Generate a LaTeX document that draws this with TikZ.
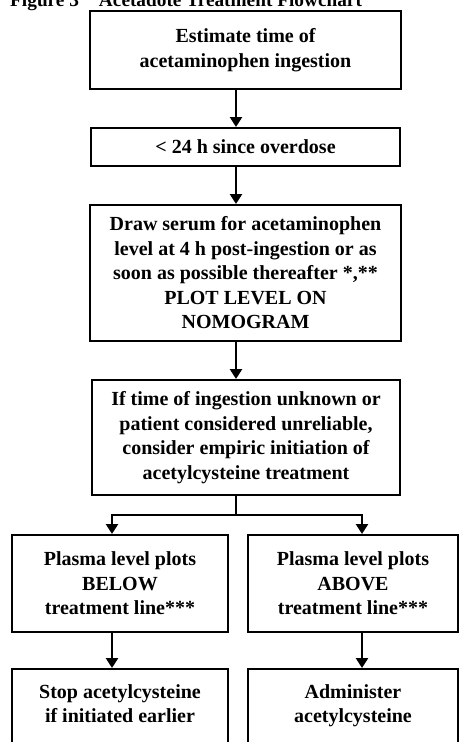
\documentclass[tikz,border=0pt]{standalone}
\usepackage{fontspec}
\setmainfont{Liberation Serif}
\usetikzlibrary{arrows.meta}
\begin{document}
\begin{tikzpicture}[x=1pt,y=1pt,
  box/.style={draw, line width=2pt, inner sep=0pt, align=center,
    font=\fontsize{20}{24.5}\selectfont\bfseries},
  arr/.style={line width=2.6pt, -{Triangle[width=12pt,length=10pt]}},
  lin/.style={line width=2.6pt, line cap=rect}]
\useasboundingbox (0,0) rectangle (460,-742);
\clip (0,0) rectangle (460,-742);
\node[anchor=base west, inner sep=0pt, font=\fontsize{19.3}{22}\selectfont\bfseries] (title) at (10,-6)
  {Figure 3\hspace{20pt}Acetadote Treatment Flowchart};
\node[box, minimum width=311pt, minimum height=78pt] (b1) at (245.5,-50)
  {Estimate time of\\acetaminophen ingestion};
\node[box, minimum width=309pt, minimum height=38pt] (b2) at (245.5,-147)
  {< 24 h since overdose};
\node[box, minimum width=311pt, minimum height=136pt] (b3) at (245.5,-273)
  {Draw serum for acetaminophen\\level at 4 h post-ingestion or as\\soon as possible thereafter *,**\\PLOT LEVEL ON\\NOMOGRAM};
\node[box, minimum width=308pt, minimum height=115pt] (b4) at (246,-437.5)
  {If time of ingestion unknown or\\patient considered unreliable,\\consider empiric initiation of\\acetylcysteine treatment};
\node[box, minimum width=216pt, minimum height=97pt] (l1) at (120,-583.5)
  {Plasma level plots\\BELOW\\treatment line***};
\node[box, minimum width=210pt, minimum height=97pt] (r1) at (353,-583.5)
  {Plasma level plots\\ABOVE\\treatment line***};
\node[box, anchor=north, minimum width=216pt] (l2) at (120,-668)
  {\parbox[t][100pt][t]{210pt}{\centering\rule{0pt}{29pt}Stop acetylcysteine\\if initiated earlier}};
\node[box, anchor=north, minimum width=210pt] (r2) at (353,-668)
  {\parbox[t][100pt][t]{204pt}{\centering\rule{0pt}{29pt}Administer\\acetylcysteine}};
\coordinate (ax) at (236,0);
\coordinate (j) at (236,-515);
\coordinate (la) at (112,-515);
\coordinate (ra) at (362,-515);
\draw[arr] (b1.south -| ax) -- (b2.north -| ax);
\draw[arr] (b2.south -| ax) -- (b3.north -| ax);
\draw[arr] (b3.south -| ax) -- (b4.north -| ax);
\draw[lin] (b4.south -| j) -- (j);
\draw[lin] (la) -- (ra);
\draw[arr] (la) -- (l1.north -| la);
\draw[arr] (ra) -- (r1.north -| ra);
\draw[arr] (l1.south -| la) -- (l2.north -| la);
\draw[arr] (r1.south -| ra) -- (r2.north -| ra);
\end{tikzpicture}
\end{document}
